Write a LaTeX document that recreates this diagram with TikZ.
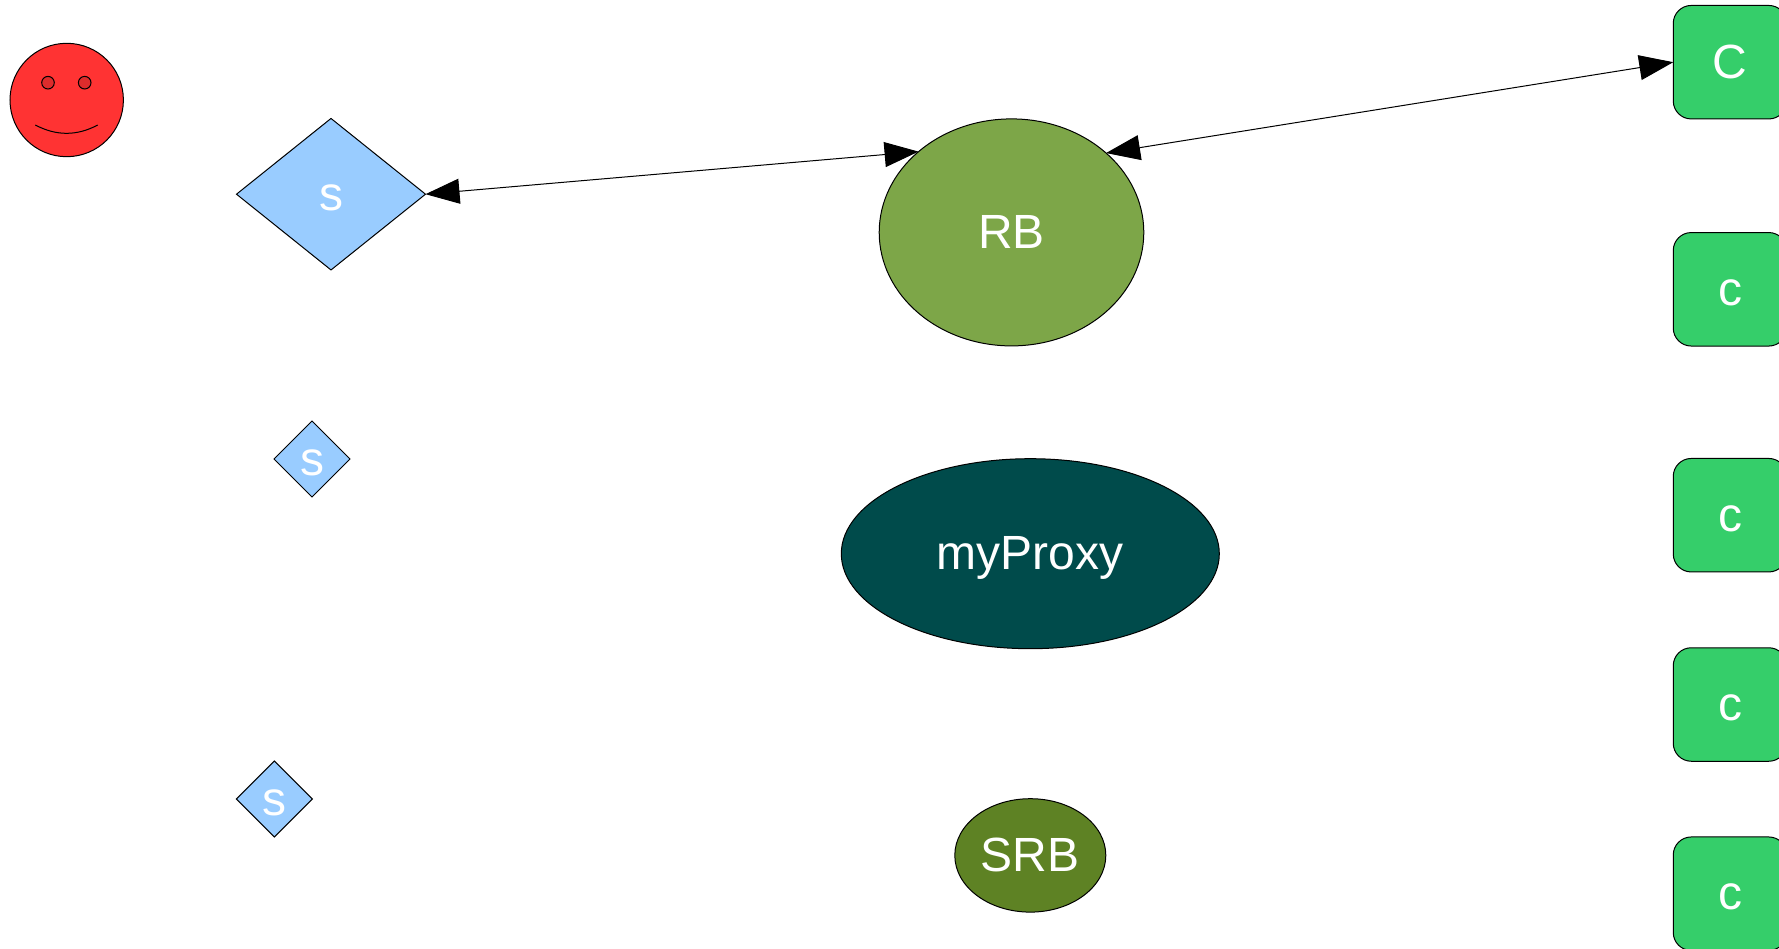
\documentclass[tikz,border=0pt]{standalone}
\usepackage{fontspec}
\setmainfont{Liberation Sans}
\usetikzlibrary{shapes.geometric,arrows.meta}
\definecolor{facered}{HTML}{FF3333}
\definecolor{eyered}{HTML}{DD2C2C}
\definecolor{skyblue}{HTML}{99CCFF}
\definecolor{boxgreen}{HTML}{35CE6A}
\definecolor{rbgreen}{HTML}{7DA648}
\definecolor{proxyteal}{HTML}{004B4B}
\definecolor{srbgreen}{HTML}{5E8224}
\tikzset{
  base/.style={draw=black,line width=1pt,inner sep=0pt,outer sep=0pt,text=white,
    font=\fontsize{48}{58}\selectfont,text height=32pt,text depth=0pt,align=center},
  dia/.style={base,diamond,fill=skyblue},
  ell/.style={base,ellipse},
  cbox/.style={base,rectangle,rounded corners=18pt,fill=boxgreen,minimum width=113.5pt,minimum height=113.5pt},
  link/.style={draw=black,line width=1pt,{Triangle[length=34pt,width=25pt]}-{Triangle[length=34pt,width=25pt]}}
}
\begin{document}
\begin{tikzpicture}[x=1pt,y=-1pt]
\useasboundingbox (0,0) rectangle (1779,949);
% face
\node[draw=black,line width=1pt,circle,fill=facered,inner sep=0pt,minimum size=113.4pt] (face) at (66.7,100) {};
\node[draw=black,line width=1pt,circle,fill=eyered,inner sep=0pt,minimum size=12.6pt] (eyeL) at (48,82.7) {};
\node[draw=black,line width=1pt,circle,fill=eyered,inner sep=0pt,minimum size=12.6pt] (eyeR) at (84.7,82.7) {};
\draw[line width=1pt] (35.3,125) .. controls (56.2,136.1) and (77,136.1) .. (97.7,125);
% diamonds
\node[dia,minimum width=189pt,minimum height=151.5pt] (s1) at (331,194.2) {s};
\node[dia,minimum width=76pt,minimum height=76pt] (s2) at (312,459) {s};
\node[dia,minimum width=76pt,minimum height=76pt] (s3) at (274.3,799) {s};
% ellipses
\node[ell,fill=rbgreen,minimum width=264.6pt,minimum height=227pt] (rb) at (1011.5,232.4) {RB};
\node[ell,fill=proxyteal,minimum width=378pt,minimum height=190pt] (proxy) at (1030.3,553.7) {myProxy};
\node[ell,fill=srbgreen,minimum width=151pt,minimum height=113.4pt] (srb) at (1030.3,855.4) {SRB};
% boxes
\node[cbox] (c1) at (1730,62.2) {C};
\node[cbox] (c2) at (1730,289.3) {c};
\node[cbox] (c3) at (1730,515.2) {c};
\node[cbox] (c4) at (1730,704.5) {c};
\node[cbox] (c5) at (1730,893.7) {c};
% connectors
\draw[link] (s1.east) -- (rb.139.2);
\draw[link] (rb.40.4) -- (c1.west);
\end{tikzpicture}
\end{document}
